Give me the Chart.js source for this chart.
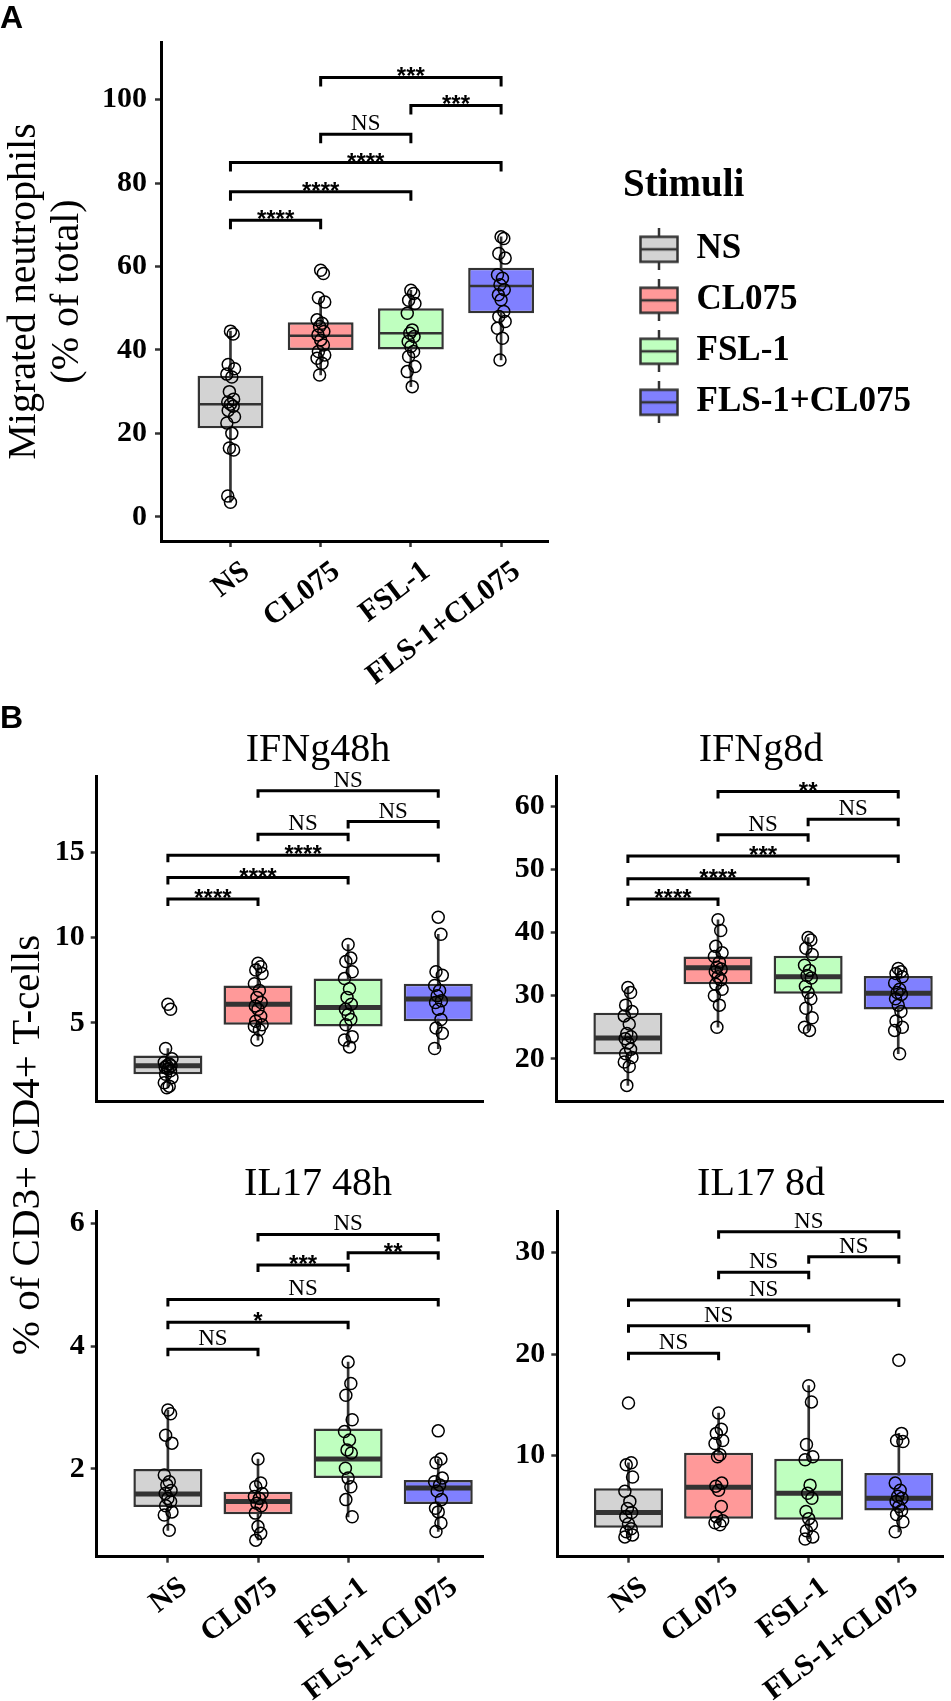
<!DOCTYPE html>
<html>
<head>
<meta charset="utf-8">
<script src="https://cdn.jsdelivr.net/npm/chart.js@4.4.0/dist/chart.umd.min.js"></script>
<style>
  html, body { margin: 0; padding: 0; background: #fff; overflow: hidden; }
  #page { position: relative; width: 951px; height: 1701px; overflow: hidden; }
  .panel { position: absolute; }
</style>
</head>
<body>
<div id="page">
  <div class="panel" style="left:0;top:0;width:951px;height:700px"><canvas id="chartA"></canvas></div>
  <div class="panel" style="left:0;top:700px;width:636px;height:440px"><canvas id="chartB1"></canvas></div>
  <div class="panel" style="left:480px;top:700px;width:562px;height:440px"><canvas id="chartB2"></canvas></div>
  <div class="panel" style="left:0;top:900px;width:636px;height:801px"><canvas id="chartB3"></canvas></div>
  <div class="panel" style="left:480px;top:1140px;width:562px;height:561px"><canvas id="chartB4"></canvas></div>
</div>
<script>
// categories
const stimuli = ['NS', 'CL075', 'FSL-1', 'FLS-1+CL075'];
const fills = ['#d3d3d3', '#ff9999', '#bfffbf', '#8080ff'];
// comparisons, same order in every panel
const sigPairs = [[0, 1], [0, 2], [0, 3], [1, 2], [2, 3], [1, 3]];

// A: migrated neutrophils (% of total)
const migQ1 = [21.2, 40.0, 40.1, 48.8];
const migMedian = [27.0, 43.4, 44.0, 55.3];
const migQ3 = [33.8, 46.6, 50.0, 59.7];
const migLow = [3.5, 34.0, 31.2, 37.6];
const migHigh = [44.5, 52.5, 54.3, 67.1];
const migPoints = [
  [44.5, 43.8, 36.5, 35.5, 34.2, 33.5, 30.0, 28.2, 27.5, 27.0, 26.5, 25.5, 24.0, 22.5, 20.0, 16.5, 16.0, 5.0, 3.5],
  [59.1, 58.3, 52.5, 51.5, 47.2, 46.4, 45.6, 44.4, 43.6, 42.4, 41.2, 39.6, 38.8, 38.0, 36.8, 34.0],
  [54.3, 53.5, 51.9, 51.1, 48.8, 44.8, 44.0, 43.2, 42.0, 40.8, 39.6, 38.4, 36.0, 34.8, 31.2],
  [67.1, 66.7, 63.1, 62.0, 58.0, 57.2, 55.6, 54.4, 53.2, 52.0, 49.2, 48.0, 46.8, 45.2, 42.8, 37.6]
];
const migTicks = [0, 20, 40, 60, 80, 100];
const migSigLevels = [71.1, 77.9, 84.9, 91.7, 98.6, 105.3];
const migSigLabels = ['****', '****', '****', 'NS', '***', '***'];

// B: IFNg 48h
const ifn48Q1 = [2.0, 4.9, 4.8, 5.1];
const ifn48Median = [2.5, 6.1, 5.9, 6.4];
const ifn48Q3 = [3.1, 7.2, 7.6, 7.3];
const ifn48Low = [1.2, 4.0, 3.6, 3.5];
const ifn48High = [3.5, 8.5, 9.6, 10.2];
const ifn48Points = [
  [6.1, 5.8, 3.5, 2.9, 2.7, 2.6, 2.5, 2.5, 2.4, 2.3, 2.2, 2.0, 1.8, 1.5, 1.3, 1.2],
  [8.5, 8.3, 8.1, 7.9, 7.3, 6.9, 6.5, 6.2, 6.0, 5.8, 5.4, 5.1, 4.9, 4.8, 4.6, 4.0],
  [9.6, 8.8, 8.6, 8.0, 7.6, 7.0, 6.5, 6.1, 5.8, 5.5, 5.2, 4.9, 4.2, 4.0, 3.6],
  [11.2, 10.2, 8.0, 7.8, 7.2, 6.9, 6.6, 6.3, 6.2, 5.8, 5.2, 4.7, 4.4, 3.5]
];
const ifn48Ticks = [5, 10, 15];
const ifn48SigLevels = [12.26, 13.52, 14.82, 16.06, 16.8, 18.61];
const ifn48SigLabels = ['****', '****', '****', 'NS', 'NS', 'NS'];

// B: IFNg 8d
const ifn8Q1 = [20.7, 31.8, 30.3, 27.8];
const ifn8Median = [23.3, 34.4, 33.0, 30.4];
const ifn8Q3 = [27.3, 36.2, 36.3, 33.1];
const ifn8Low = [15.8, 25.0, 24.5, 20.8];
const ifn8High = [31.3, 42.0, 39.2, 34.3];
const ifn8Points = [
  [31.3, 30.5, 28.5, 27.5, 26.8, 25.5, 24.0, 23.5, 23.2, 22.5, 21.5, 20.8, 20.2, 19.5, 18.8, 15.8],
  [42.0, 40.3, 37.8, 36.8, 36.2, 35.3, 34.5, 34.2, 33.8, 33.0, 32.5, 31.8, 31.0, 30.0, 28.5, 25.0],
  [39.2, 38.8, 37.5, 36.5, 34.8, 34.0, 33.2, 32.8, 31.5, 30.5, 29.5, 28.0, 26.5, 25.0, 24.5],
  [34.3, 33.8, 33.5, 33.0, 32.0, 31.0, 30.5, 30.2, 29.5, 28.5, 27.5, 26.0, 25.0, 24.5, 20.8]
];
const ifn8Ticks = [20, 30, 40, 50, 60];
const ifn8SigLevels = [45.3, 48.5, 52.1, 55.45, 57.9, 62.3];
const ifn8SigLabels = ['****', '****', '***', 'NS', 'NS', '**'];

// B: IL17 48h
const il48Q1 = [1.38, 1.26, 1.85, 1.43];
const il48Median = [1.59, 1.47, 2.16, 1.69];
const il48Q3 = [2.0, 1.63, 2.66, 1.82];
const il48Low = [1.0, 0.84, 1.22, 0.98];
const il48High = [2.96, 2.16, 3.74, 2.16];
const il48Points = [
  [2.96, 2.9, 2.55, 2.42, 1.9, 1.79, 1.74, 1.65, 1.6, 1.52, 1.47, 1.4, 1.3, 1.25, 1.0],
  [2.16, 1.77, 1.71, 1.6, 1.55, 1.52, 1.44, 1.4, 1.28, 1.06, 0.95, 0.84],
  [3.74, 3.39, 3.2, 2.8, 2.61, 2.47, 2.31, 2.26, 2.01, 1.85, 1.71, 1.5, 1.22],
  [2.62, 2.16, 2.1, 1.85, 1.79, 1.74, 1.64, 1.5, 1.36, 1.3, 1.12, 0.98]
];
const il48Ticks = [2, 4, 6];
const il48SigLevels = [3.95, 4.39, 4.76, 5.32, 5.52, 5.82];
const il48SigLabels = ['NS', '*', 'NS', '***', '**', 'NS'];

// B: IL17 8d
const il8Q1 = [2.9, 3.8, 3.7, 4.6];
const il8Median = [4.4, 6.9, 6.3, 5.8];
const il8Q3 = [6.8, 10.3, 9.7, 8.3];
const il8Low = [2.0, 3.2, 1.8, 2.5];
const il8High = [9.3, 14.2, 16.9, 12.2];
const il8Points = [
  [15.2, 9.3, 9.1, 7.9, 6.5, 5.5, 4.8, 4.4, 4.0, 3.3, 2.8, 2.5, 2.2, 2.0],
  [14.2, 12.6, 12.2, 11.5, 11.2, 10.1, 9.9, 7.3, 7.0, 6.6, 5.0, 4.0, 3.6, 3.4, 3.2],
  [16.9, 15.3, 11.1, 9.9, 9.6, 7.1, 6.3, 5.8, 4.5, 3.8, 3.2, 2.6, 2.0, 1.8],
  [19.4, 12.2, 11.5, 11.4, 7.3, 6.6, 6.0, 5.8, 5.5, 5.0, 4.6, 4.2, 3.5, 2.5]
];
const il8Ticks = [10, 20, 30];
const il8SigLevels = [20.09, 22.81, 25.34, 28.07, 29.6, 32.07];
const il8SigLabels = ['NS', 'NS', 'NS', 'NS', 'NS', 'NS'];

const serif = "'Liberation Serif', 'Times New Roman', serif";
const sans = "'Liberation Sans', Arial, sans-serif";
// small horizontal spread so the open circles do not sit exactly on top of each other
const jitter = [0, 0.03, -0.025, 0.045, -0.04, 0.015, -0.012, 0.035, -0.03];

// significance brackets, drawn with the chart's own scales
const brackets = {
  id: 'brackets',
  afterDatasetsDraw(chart, args, opts) {
    const {ctx, scales: {x, y}} = chart;
    ctx.save();
    ctx.strokeStyle = '#000';
    ctx.fillStyle = '#000';
    ctx.lineWidth = 3;
    ctx.textAlign = 'center';
    opts.levels.forEach((lv, i) => {
      const x1 = x.getPixelForValue(sigPairs[i][0]);
      const x2 = x.getPixelForValue(sigPairs[i][1]);
      const yy = y.getPixelForValue(lv);
      ctx.beginPath();
      ctx.moveTo(x1, yy + opts.tip);
      ctx.lineTo(x1, yy);
      ctx.lineTo(x2, yy);
      ctx.lineTo(x2, yy + opts.tip);
      ctx.stroke();
      const lab = opts.labels[i];
      if (lab === 'NS') {
        ctx.font = '23px ' + serif;
        ctx.fillText(lab, (x1 + x2) / 2, yy - 4);
      } else {
        ctx.font = 'bold 24px ' + sans;
        ctx.fillText(lab, (x1 + x2) / 2, yy + 7);
      }
    });
    ctx.restore();
  }
};

// y title shared by the four panels of B
const sharedTitle = {
  id: 'sharedTitle',
  afterDraw(chart, args, opts) {
    const ctx = chart.ctx;
    ctx.save();
    ctx.translate(opts.x, opts.y);
    ctx.rotate(-Math.PI / 2);
    ctx.font = '41px ' + serif;
    ctx.fillStyle = '#000';
    ctx.textAlign = 'center';
    ctx.textBaseline = 'middle';
    ctx.fillText(opts.text, 0, 0);
    ctx.restore();
  }
};

function legendIcon(fill) {
  const c = document.createElement('canvas');
  c.width = 40;
  c.height = 42;
  const g = c.getContext('2d');
  g.strokeStyle = '#333';
  g.lineWidth = 2.5;
  g.beginPath(); g.moveTo(20, 0); g.lineTo(20, 42); g.stroke();
  g.fillStyle = fill;
  g.fillRect(1.5, 8.5, 37, 25);
  g.strokeRect(1.5, 8.5, 37, 25);
  g.beginPath(); g.moveTo(1.5, 21); g.lineTo(38.5, 21); g.stroke();
  return c;
}

// legend text width, so the legend box (which clips) is wide enough and starts at x=623
const legendFont = {family: serif, size: 35, weight: 'bold'};
const measureCtx = document.createElement('canvas').getContext('2d');
measureCtx.font = 'bold 35px ' + serif;
const legendTextWidth = Math.max(...stimuli.map(s => measureCtx.measureText(s).width));
const legendPadRight = Math.max(0, 951 - 623 - (16 + 40 + 17.5 + legendTextWidth + 10));

function boxDatasets(p) {
  return [
    {
      type: 'scatter', order: 1,
      data: p.points.flatMap((vals, i) => vals.map((v, k) => ({x: i + jitter[k % jitter.length], y: v}))),
      pointStyle: 'circle', pointRadius: 6, pointBorderWidth: 1.5,
      pointBorderColor: '#000', pointBackgroundColor: 'rgba(0,0,0,0)'
    },
    {
      type: 'scatter', order: 2,
      data: p.median.map((v, i) => ({x: i, y: v})),
      pointStyle: 'line', pointRadius: p.halfBox, pointBorderWidth: p.medianWidth, pointBorderColor: '#333'
    },
    {
      type: 'bar', order: 3,
      data: p.q1.map((v, i) => ({x: i, y: [v, p.q3[i]]})),
      backgroundColor: fills, borderColor: '#333', borderWidth: 2.5, borderSkipped: false,
      grouped: false, categoryPercentage: 1, barPercentage: p.boxWidth
    },
    {
      type: 'bar', order: 4,
      data: p.low.map((v, i) => ({x: i, y: [v, p.high[i]]})),
      backgroundColor: '#333', barThickness: 2, grouped: false
    }
  ];
}

const axisFont = {family: serif, size: 30, weight: 'bold'};

function boxChart(id, p) {
  return new Chart(document.getElementById(id), {
    type: 'bar',
    data: {datasets: boxDatasets(p)},
    options: {
      responsive: true,
      maintainAspectRatio: false,
      animation: false,
      events: [],
      layout: {padding: {left: 0, top: 0, bottom: 0, right: p.padRight || 0}},
      plugins: {
        legend: p.legend || {display: false},
        title: p.title,
        subtitle: p.subtitle || {display: false},
        tooltip: {enabled: false},
        brackets: {levels: p.sigLevels, labels: p.sigLabels, tip: p.tip},
        sharedTitle: p.shared || {}
      },
      scales: {
        x: {
          type: 'linear', offset: false, min: p.xMin, max: p.xMax,
          afterBuildTicks: s => { s.ticks = stimuli.map((c, i) => ({value: i})); },
          afterFit: s => { s.height = p.xHeight; },
          border: {display: true, color: '#000', width: 3},
          grid: {display: p.xLabels, offset: false, drawOnChartArea: false, drawTicks: true, tickLength: 6, tickWidth: 2.5, tickColor: '#333'},
          ticks: {
            display: p.xLabels, autoSkip: false, minRotation: 37, maxRotation: 37,
            padding: 7, labelOffset: 16, color: '#000', font: axisFont,
            callback: v => stimuli[v]
          }
        },
        y: {
          type: 'linear', min: p.yMin, max: p.yMax,
          afterBuildTicks: s => { s.ticks = p.ticks.map(v => ({value: v})); },
          afterFit: s => { s.width = p.yWidth; },
          border: {display: true, color: '#000', width: 3},
          grid: {drawOnChartArea: false, drawTicks: true, tickLength: 6, tickWidth: 2.5, tickColor: '#333'},
          ticks: {padding: p.yPad, color: '#000', font: axisFont},
          title: p.yTitle || {display: false}
        },
        gap: {
          type: 'linear', position: 'right', display: true,
          grid: {display: false}, border: {display: false}, ticks: {display: false},
          afterFit: s => { s.width = p.rightGap(s.chart); }
        }
      }
    },
    plugins: p.shared ? [brackets, sharedTitle] : [brackets]
  });
}

const panelTitle = (text, top, bottom) => ({
  display: true, text: text, color: '#000',
  font: {family: serif, size: 40, weight: 'normal', lineHeight: 1},
  padding: {top: top, bottom: bottom}
});

boxChart('chartA', {
  q1: migQ1, median: migMedian, q3: migQ3, low: migLow, high: migHigh, points: migPoints,
  ticks: migTicks, sigLevels: migSigLevels, sigLabels: migSigLabels, tip: 9,
  yMin: -5.8, yMax: 113.8, xMin: -0.77, xMax: 3.52, yWidth: 161, yPad: 8, xHeight: 159, xLabels: true,
  // plot area ends at x=548, whatever width the legend takes
  rightGap: c => Math.max(0, c.width - legendPadRight - (c.legend ? c.legend.width : 0) - 548),
  padRight: legendPadRight, boxWidth: 0.73, halfBox: 32, medianWidth: 2.5,
  title: {
    display: true, text: 'A', align: 'start', color: '#000',
    font: {family: sans, size: 32, weight: 'bold', lineHeight: 1}, padding: {top: 3, bottom: 7}
  },
  yTitle: {
    display: true, text: ['Migrated neutrophils', '(% of total)'], color: '#000',
    font: {family: serif, size: 40, weight: 'normal', lineHeight: 1.07}, padding: {top: 3.5, bottom: 0}
  },
  legend: {
    display: true, position: 'right', align: 'start', maxWidth: 400,
    onClick: null,
    title: {
      display: true, text: 'Stimuli', position: 'start', color: '#000',
      font: {family: serif, size: 39, weight: 'bold', lineHeight: 1.2}, padding: {top: 166, bottom: 3}
    },
    labels: {
      usePointStyle: true, pointStyleWidth: 40, padding: 16, color: '#000',
      font: legendFont,
      generateLabels: () => stimuli.map((s, i) => ({
        text: s, pointStyle: legendIcon(fills[i]), fillStyle: fills[i], strokeStyle: '#333',
        fontColor: '#000', lineWidth: 0, hidden: false, datasetIndex: 2, index: i
      }))
    }
  }
});

boxChart('chartB1', {
  q1: ifn48Q1, median: ifn48Median, q3: ifn48Q3, low: ifn48Low, high: ifn48High, points: ifn48Points,
  ticks: ifn48Ticks, sigLevels: ifn48SigLevels, sigLabels: ifn48SigLabels, tip: 7,
  yMin: 0.4, yMax: 19.44, xMin: -0.79, xMax: 3.5, yWidth: 96.7, yPad: 6, xHeight: 20, xLabels: false,
  rightGap: () => 152.7, boxWidth: 0.766, halfBox: 33.5, medianWidth: 5,
  title: {
    display: true, text: 'B', align: 'start', color: '#000',
    font: {family: sans, size: 32, weight: 'bold', lineHeight: 0.8}, padding: {top: 6, bottom: 0}
  },
  subtitle: {
    display: true, text: 'IFNg48h', color: '#000',
    font: {family: serif, size: 40, weight: 'normal', lineHeight: 0.9}, padding: {top: 1, bottom: 7.9}
  }
});

boxChart('chartB2', {
  q1: ifn8Q1, median: ifn8Median, q3: ifn8Q3, low: ifn8Low, high: ifn8High, points: ifn8Points,
  ticks: ifn8Ticks, sigLevels: ifn8SigLevels, sigLabels: ifn8SigLabels, tip: 7,
  yMin: 13.25, yMax: 64.65, xMin: -0.79, xMax: 3.5, yWidth: 76.7, yPad: 6, xHeight: 20, xLabels: false,
  rightGap: () => 98.7, boxWidth: 0.766, halfBox: 33.5, medianWidth: 5,
  title: panelTitle('IFNg8d', 30.5, 6.2)
});

boxChart('chartB3', {
  q1: il48Q1, median: il48Median, q3: il48Q3, low: il48Low, high: il48High, points: il48Points,
  ticks: il48Ticks, sigLevels: il48SigLevels, sigLabels: il48SigLabels, tip: 7,
  yMin: 0.57, yMax: 6.19, xMin: -0.79, xMax: 3.5, yWidth: 96.7, yPad: 6, xHeight: 144.3, xLabels: true,
  rightGap: () => 152.7, boxWidth: 0.766, halfBox: 33.5, medianWidth: 5,
  title: panelTitle('IL17 48h', 264.5, 7.2),
  shared: {text: '% of CD3+ CD4+ T-cells', x: 28, y: 245}
});

boxChart('chartB4', {
  q1: il8Q1, median: il8Median, q3: il8Q3, low: il8Low, high: il8High, points: il8Points,
  ticks: il8Ticks, sigLevels: il8SigLevels, sigLabels: il8SigLabels, tip: 7,
  yMin: 0.05, yMax: 34.04, xMin: -0.79, xMax: 3.5, yWidth: 77.3, yPad: 6, xHeight: 144.3, xLabels: true,
  rightGap: () => 98.1, boxWidth: 0.766, halfBox: 33.5, medianWidth: 5,
  title: panelTitle('IL17 8d', 24.5, 7.2)
});
</script>
</body>
</html>
